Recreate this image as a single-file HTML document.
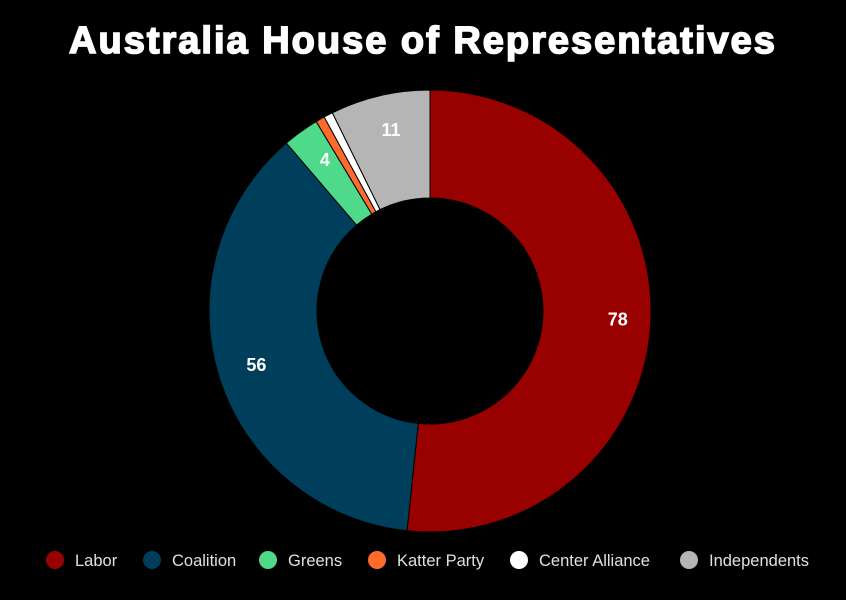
<!DOCTYPE html>
<html><head><meta charset="utf-8"><style>
html,body{margin:0;padding:0;background:#000;width:846px;height:600px;overflow:hidden;font-family:"Liberation Sans",sans-serif}
</style></head><body>
<svg id="chart" width="846" height="600" viewBox="0 0 846 600">
<text x="423" y="53" text-anchor="middle" fill="#fff" font-family="Liberation Sans, sans-serif" font-weight="900" font-size="38" letter-spacing="2" stroke="#fff" stroke-width="1.6">Australia House of Representatives</text>
<g id="slices"></g><g id="labels"></g><g id="legend"></g>
</svg>
<script>
const categories=["Labor","Coalition","Greens","Katter Party","Center Alliance","Independents"];
const values=[78,56,4,1,1,11];
const colors=["#990000","#003f5c","#4fd98a","#ff6b2b","#ffffff","#b5b5b5"];
const legendX=[55,152,268,377,519,689];
const NS="http://www.w3.org/2000/svg";
const cx=430,cy=311,R=221,r=113,LR=185;
const total=values.reduce((a,b)=>a+b,0);
function pt(rad,a){return [cx+rad*Math.sin(a),cy-rad*Math.cos(a)];}
let acc=0;
const gS=document.getElementById('slices'),gL=document.getElementById('labels'),gLeg=document.getElementById('legend');
values.forEach((v,i)=>{
  const a0=acc/total*2*Math.PI;acc+=v;const a1=acc/total*2*Math.PI;
  const large=(a1-a0)>Math.PI?1:0;
  const [x0,y0]=pt(R,a0),[x1,y1]=pt(R,a1),[x2,y2]=pt(r,a1),[x3,y3]=pt(r,a0);
  const p=document.createElementNS(NS,'path');
  p.setAttribute('d',`M${x0},${y0}A${R},${R} 0 ${large} 1 ${x1},${y1}L${x2},${y2}A${r},${r} 0 ${large} 0 ${x3},${y3}Z`);
  p.setAttribute('fill',colors[i]);p.setAttribute('stroke','#000');p.setAttribute('stroke-width','1');
  
  
  gS.appendChild(p);
  if(v>2){
    const [lx,ly]=pt(LR,(a0+a1)/2);
    const t=document.createElementNS(NS,'text');
    t.setAttribute('x',lx+3);t.setAttribute('y',ly+5);t.setAttribute('text-anchor','middle');
    t.setAttribute('fill','#fff');t.setAttribute('font-weight','bold');t.setAttribute('font-size','18');
    t.textContent=v;
    
    
    gL.appendChild(t);
  }
  const g=document.createElementNS(NS,'g');
  
  
  const c=document.createElementNS(NS,'circle');
  c.setAttribute('cx',legendX[i]);c.setAttribute('cy',560);c.setAttribute('r',9);c.setAttribute('fill',colors[i]);
  const t2=document.createElementNS(NS,'text');
  t2.setAttribute('x',legendX[i]+20);t2.setAttribute('y',566);t2.setAttribute('fill','#e0e0e0');t2.setAttribute('font-size','16.5');
  t2.textContent=categories[i];
  g.appendChild(c);g.appendChild(t2);gLeg.appendChild(g);
});
</script>
</body></html>
